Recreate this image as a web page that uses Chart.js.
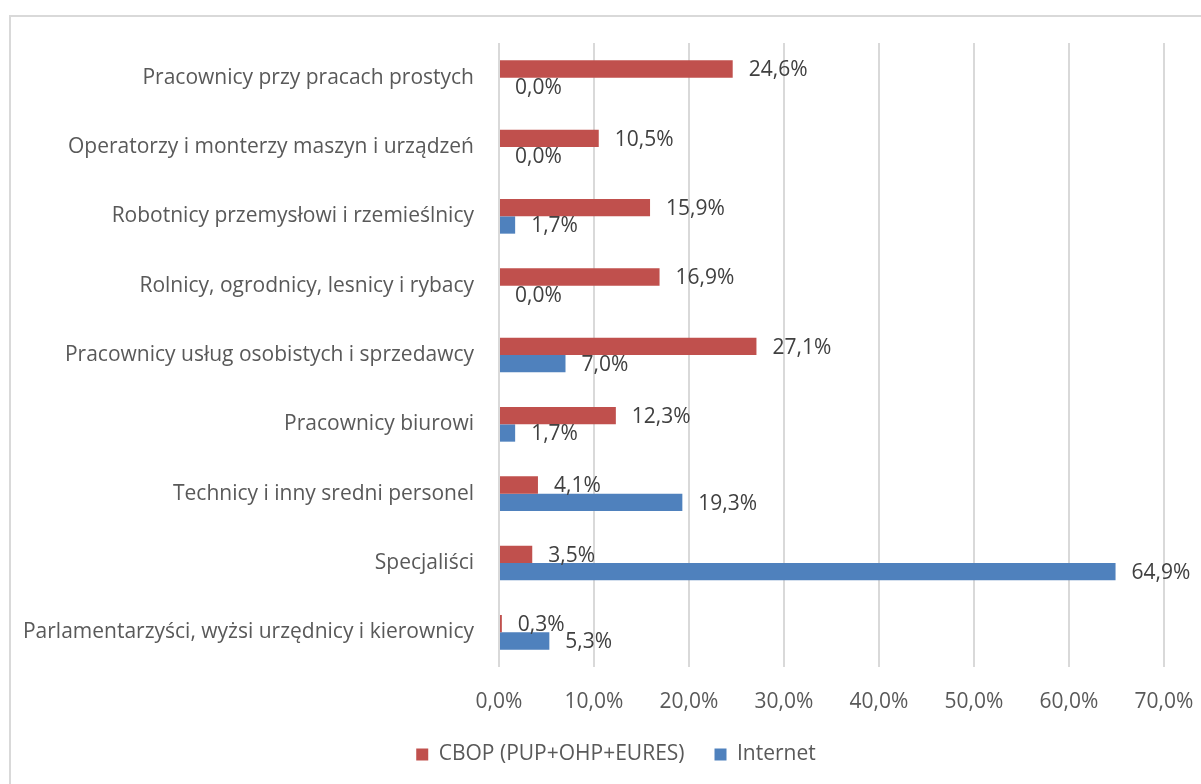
<!DOCTYPE html>
<html>
<head>
<meta charset="utf-8">
<script src="https://cdn.jsdelivr.net/npm/chart.js@4"></script>
<style>
    html, body { margin: 0; padding: 0; background: #fff; overflow: hidden; }
    #ramka { position: absolute; left: 9px; top: 15px; width: 1400px; height: 1000px; border: 2px solid #d9d9d9; }
    #wrap { position: absolute; left: 0; top: 0; width: 1201px; height: 784px; }
</style>
</head>
<body>
<div id="ramka"></div>
<div id="wrap"><canvas id="wykres"></canvas></div>
<script>
// --- Dane ---
const kategorie = [
    'Pracownicy przy pracach prostych',
    'Operatorzy i monterzy maszyn i urządzeń',
    'Robotnicy przemysłowi i rzemieślnicy',
    'Rolnicy, ogrodnicy, lesnicy i rybacy',
    'Pracownicy usług osobistych i sprzedawcy',
    'Pracownicy biurowi',
    'Technicy i inny sredni personel',
    'Specjaliści',
    'Parlamentarzyści, wyżsi urzędnicy i kierownicy'
];
const cbop = [24.6, 10.5, 15.9, 16.9, 27.1, 12.3, 4.1, 3.5, 0.3];
const internet = [0.0, 0.0, 1.7, 0.0, 7.0, 1.7, 19.3, 64.9, 5.3];
const nazwySerii = ['CBOP (PUP+OHP+EURES)', 'Internet'];

const FONT = "'Open Sans', Lato, sans-serif";
const ROZM = 21;
const fmt = v => v.toFixed(1).replace('.', ',') + '%';

// --- Etykiety wartości przy słupkach ---
const etykietyPlugin = {
    id: 'etykiety',
    afterDatasetsDraw(chart) {
        const ctx = chart.ctx;
        ctx.save();
        ctx.font = `${ROZM}px ${FONT}`;
        ctx.fillStyle = '#404040';
        ctx.textAlign = 'left';
        ctx.textBaseline = 'middle';
        chart.data.datasets.forEach((ds, i) => {
            const meta = chart.getDatasetMeta(i);
            meta.data.forEach((bar, j) => {
                ctx.fillText(fmt(ds.data[j]), bar.x + 16, bar.y + 1.5);
            });
        });
        ctx.restore();
    }
};

// --- Przesunięcie legendy (jak w oryginale, nie na środku) ---
const legendaPlugin = {
    id: 'przesunLegende',
    afterLayout(chart) {
        chart.legend.left += 34;
        chart.legend.right += 34;
    }
};

const ctx = document.getElementById('wykres').getContext('2d');
new Chart(ctx, {
    type: 'bar',
    data: {
        labels: kategorie,
        datasets: [
            { label: nazwySerii[0], data: cbop, backgroundColor: '#C0504D', categoryPercentage: 0.5, barPercentage: 1.0 },
            { label: nazwySerii[1], data: internet, backgroundColor: '#4F81BD', categoryPercentage: 0.5, barPercentage: 1.0 }
        ]
    },
    options: {
        indexAxis: 'y',
        responsive: true,
        maintainAspectRatio: false,
        animation: false,
        layout: { padding: { left: 0, right: 37, top: 43, bottom: 9 } },
        plugins: {
            legend: {
                position: 'bottom',
                labels: {
                    boxWidth: 12, boxHeight: 12, padding: 30,
                    color: '#595959',
                    font: { family: FONT, size: ROZM }
                }
            },
            tooltip: { enabled: false }
        },
        scales: {
            x: {
                min: 0, max: 70,
                ticks: {
                    stepSize: 10,
                    padding: 0,
                    color: '#595959',
                    font: { family: FONT, size: ROZM },
                    callback: v => fmt(v)
                },
                grid: { color: '#d9d9d9', lineWidth: 2, drawTicks: true, tickLength: 22, tickColor: 'rgba(0,0,0,0)' },
                border: { display: false },
                afterFit: s => { s.height = 47; }
            },
            y: {
                ticks: {
                    padding: 25,
                    color: '#595959',
                    font: { family: FONT, size: ROZM }
                },
                grid: { display: false, drawTicks: false },
                border: { display: false },
                afterFit: s => { s.width = 499; }
            }
        }
    },
    plugins: [etykietyPlugin, legendaPlugin]
});
</script>
</body>
</html>
